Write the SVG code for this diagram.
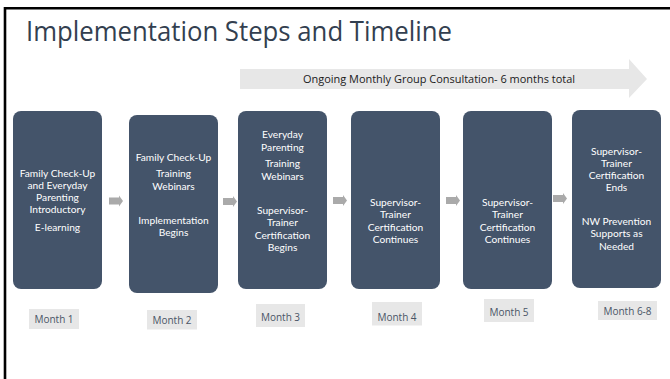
<svg xmlns="http://www.w3.org/2000/svg" width="670" height="379" viewBox="0 0 670 379">
<style>
.box{fill:#44546a}
.bt{font-family:Lato,"Open Sans",sans-serif;font-size:10.2px;fill:#ffffff;text-anchor:middle}
.lbl{fill:#e7e7e7}
.lt{font-family:"Open Sans","DejaVu Sans",sans-serif;font-size:10px;fill:#4a5566;text-anchor:middle}
.sa{fill:#aaaaaa}
</style>
<rect width="670" height="379" fill="#ffffff"/>
<path d="M5 379 V8.3 H670" fill="none" stroke="#000000" stroke-width="2.6"/>
<text x="26" y="41" font-family="'Open Sans','DejaVu Sans',sans-serif" font-size="27" fill="#333f50" textLength="426" lengthAdjust="spacingAndGlyphs">Implementation Steps and Timeline</text>
<g id="consultation-arrow">
<path d="M240 69 H629 V59 L647 79 L629 98 V89 H240 Z" fill="#e7e7e7"/>
<text x="439" y="83" font-family="'Open Sans','DejaVu Sans',sans-serif" font-size="10" fill="#1a1a1a" text-anchor="middle" textLength="272" lengthAdjust="spacingAndGlyphs">Ongoing Monthly Group Consultation- 6 months total</text>
</g>
<g id="connectors">
<path class="sa" d="M109 197.5 H119 V195.5 L123 201 L119 206.5 V204.5 H109 Z"/>
<path class="sa" d="M223 198 H233 V196 L237 201.5 L233 207 V205 H223 Z"/>
<path class="sa" d="M333 197 H343 V195 L347 200.5 L343 206 V204 H333 Z"/>
<path class="sa" d="M446 197 H456 V195 L460 200.5 L456 206 V204 H446 Z"/>
<path class="sa" d="M553 195 H563 V193 L567 198.5 L563 204 V202 H553 Z"/>
</g>
<g id="month1">
<rect class="box" x="13" y="111" width="89" height="178" rx="8"/>
<text class="bt" x="57.5" y="176.5">Family Check-Up</text>
<text class="bt" x="57.5" y="188.8">and Everyday</text>
<text class="bt" x="57.5" y="201.1">Parenting</text>
<text class="bt" x="57.5" y="213.4">Introductory</text>
<text class="bt" x="57.5" y="230.5">E-learning</text>
<rect class="lbl" x="29" y="309" width="50" height="20"/>
<text class="lt" x="54" y="323">Month 1</text>
</g>
<g id="month2">
<rect class="box" x="129" y="115" width="89" height="178" rx="8"/>
<text class="bt" x="173.5" y="161">Family Check-Up</text>
<text class="bt" x="173.5" y="177.3">Training</text>
<text class="bt" x="173.5" y="189.6">Webinars</text>
<text class="bt" x="173.5" y="223.7">Implementation</text>
<text class="bt" x="173.5" y="236">Begins</text>
<rect class="lbl" x="147" y="310" width="50" height="19.5"/>
<text class="lt" x="172" y="323.5">Month 2</text>
</g>
<g id="month3">
<rect class="box" x="238" y="111" width="89" height="178" rx="8"/>
<text class="bt" x="282.5" y="138.2">Everyday</text>
<text class="bt" x="282.5" y="150.5">Parenting</text>
<text class="bt" x="282.5" y="167.3">Training</text>
<text class="bt" x="282.5" y="179.6">Webinars</text>
<text class="bt" x="282.5" y="214">Supervisor-</text>
<text class="bt" x="282.5" y="226.3">Trainer</text>
<text class="bt" x="282.5" y="238.6">Certification</text>
<text class="bt" x="282.5" y="250.9">Begins</text>
<rect class="lbl" x="256" y="304" width="49" height="23"/>
<text class="lt" x="280.5" y="321">Month 3</text>
</g>
<g id="month4">
<rect class="box" x="351" y="111" width="89" height="178" rx="8"/>
<text class="bt" x="395.5" y="206">Supervisor-</text>
<text class="bt" x="395.5" y="218.3">Trainer</text>
<text class="bt" x="395.5" y="230.6">Certification</text>
<text class="bt" x="395.5" y="242.9">Continues</text>
<rect class="lbl" x="372" y="302" width="50" height="23.5"/>
<text class="lt" x="397" y="320.5">Month 4</text>
</g>
<g id="month5">
<rect class="box" x="463" y="111" width="89" height="178" rx="8"/>
<text class="bt" x="507.5" y="206">Supervisor-</text>
<text class="bt" x="507.5" y="218.3">Trainer</text>
<text class="bt" x="507.5" y="230.6">Certification</text>
<text class="bt" x="507.5" y="242.9">Continues</text>
<rect class="lbl" x="484" y="299" width="50" height="23"/>
<text class="lt" x="509" y="315.5">Month 5</text>
</g>
<g id="month6-8">
<rect class="box" x="572" y="110" width="89" height="178" rx="8"/>
<text class="bt" x="616.5" y="154.5">Supervisor-</text>
<text class="bt" x="616.5" y="166.8">Trainer</text>
<text class="bt" x="616.5" y="179.1">Certification</text>
<text class="bt" x="616.5" y="191.4">Ends</text>
<text class="bt" x="616.5" y="225">NW Prevention</text>
<text class="bt" x="616.5" y="237.3">Supports as</text>
<text class="bt" x="616.5" y="249.6">Needed</text>
<rect class="lbl" x="598" y="301" width="59" height="19"/>
<text class="lt" x="627.5" y="314.5">Month 6-8</text>
</g>
</svg>
